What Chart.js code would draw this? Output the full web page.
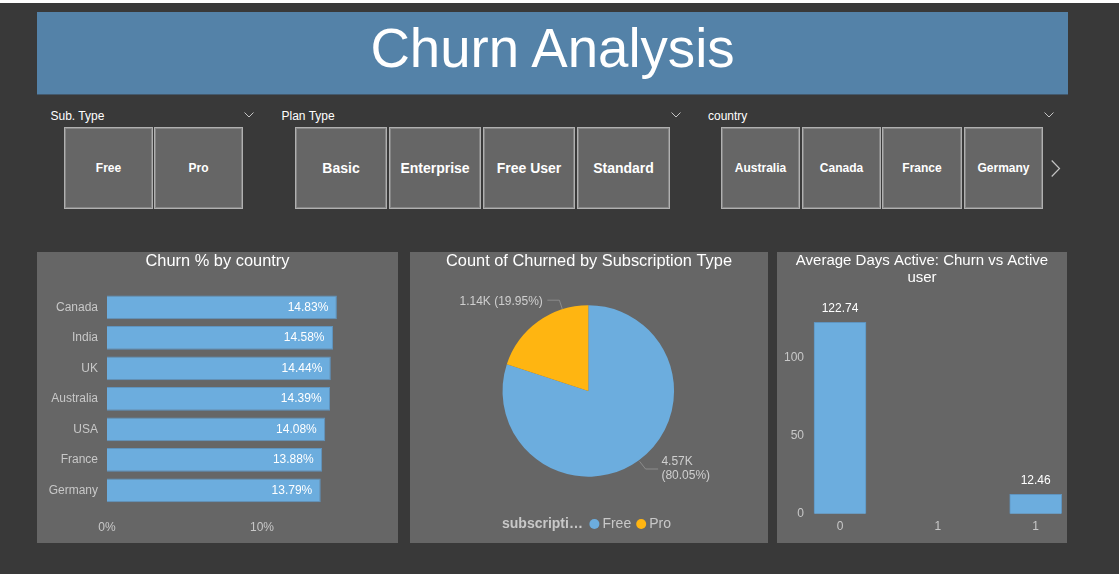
<!DOCTYPE html>
<html>
<head>
<meta charset="utf-8">
<title>Churn Analysis</title>
<script src="https://cdn.jsdelivr.net/npm/chart.js@4"></script>
<style>
html,body{margin:0;padding:0;background:#393939;width:1119px;height:574px;overflow:hidden;font-family:"Liberation Sans",Arial,sans-serif}
#strip{position:absolute;left:0;top:0;width:1119px;height:3px;background:#fff}
#header{position:absolute;left:37px;top:12px;width:1031px;height:83px;background:#5482a8;border-bottom:1px solid #43596d;box-sizing:border-box;color:#fff;font-size:54.6px;line-height:74px;text-align:center}
.lbl{position:absolute;top:109px;color:#fff;font-size:12px;line-height:14px}
.btn{position:absolute;top:127px;height:82px;box-sizing:border-box;border:1px solid #b0b0b0;box-shadow:inset 0 0 0 1px #868686;background:#666;color:#fff;font-weight:bold;font-size:12px;display:flex;align-items:center;justify-content:center}
.btn.big{font-size:14px}
svg.ch{position:absolute;overflow:visible}
.panel{position:absolute;top:252px;height:291px;background:#666;overflow:hidden}
.panel canvas{position:absolute;left:0;top:0}
</style>
</head>
<body>
<div id="strip"></div>
<div id="header">Churn Analysis</div>
<div id="slicers"></div>
<div class="panel" style="left:37px;width:361px"><canvas id="c1" width="361" height="291"></canvas></div>
<div class="panel" style="left:410px;width:358px"><canvas id="c2" width="358" height="291"></canvas></div>
<div class="panel" style="left:777px;width:290px"><canvas id="c3" width="290" height="291"></canvas></div>
<script>
const countries = ['Canada','India','UK','Australia','USA','France','Germany'];
const churnPct = [14.83,14.58,14.44,14.39,14.08,13.88,13.79];
const subTypes = ['Free','Pro'];
const churnCounts = [4570,1139];
const pieLabels = [['4.57K','(80.05%)'],['1.14K (19.95%)']];
const legendTitle = 'subscripti…';
const activeCats = ['0','1','1'];
const activeDays = [122.74,null,12.46];
const pctTicks = [0,10];
const dayTicks = [0,50,100];

const subTypeButtons = ['Free','Pro'];
const planButtons = ['Basic','Enterprise','Free User','Standard'];
const countryButtons = ['Australia','Canada','France','Germany'];

const BLUE='#6cadde', EDGE='#5f94bf', ORANGE='#ffb511', TICK='#c8c8c8';
const FONT='"Liberation Sans", Arial, sans-serif';
Chart.defaults.font.family=FONT;
Chart.defaults.animation=false;
Chart.defaults.devicePixelRatio=1;

/* slicers */
const host=document.getElementById('slicers');
function addLabel(t,x){const d=document.createElement('div');d.className='lbl';d.style.left=x+'px';d.textContent=t;host.appendChild(d);}
function addBtns(names,edges,big){names.forEach((n,i)=>{const d=document.createElement('div');d.className='btn'+(big?' big':'');d.style.left=edges[i][0]+'px';d.style.width=(edges[i][1]-edges[i][0])+'px';d.textContent=n;host.appendChild(d);});}
function chevron(x){host.insertAdjacentHTML('beforeend',`<svg class="ch" style="left:${x-5}px;top:112px" width="10" height="6"><path d="M0.5 0.5L5 5L9.5 0.5" fill="none" stroke="#c4c4c4" stroke-width="1"/></svg>`);}
addLabel('Sub. Type',50.5);addLabel('Plan Type',281.5);addLabel('country',708);
addBtns(subTypeButtons,[[64,153],[154,243]],false);
addBtns(planButtons,[[295,387],[389,481],[483,575],[577,670]],true);
addBtns(countryButtons,[[721,800],[802,881],[882,962],[964,1043]],false);
[249,676,1049].forEach(chevron);
host.insertAdjacentHTML('beforeend','<svg class="ch" style="left:1051px;top:160px" width="10" height="17"><path d="M0.7 0.5L8.5 8.5L0.7 16.5" fill="none" stroke="#c4c4c4" stroke-width="1.2"/></svg>');

/* keep each title centred on its whole panel, whatever the plot's side padding */
const centreTitle={id:'centreTitle',beforeDraw(chart){const t=chart.titleBlock;t.left=0;t.right=chart.width;}};

const barLabelPlugin={id:'barLabels',afterDatasetsDraw(chart,a,opts){
  const ctx=chart.ctx,meta=chart.getDatasetMeta(0),ds=chart.data.datasets[0].data;
  ctx.save();ctx.fillStyle='#fff';ctx.font='12px '+FONT;ctx.textBaseline='middle';
  meta.data.forEach((el,i)=>{
    if(ds[i]==null)return;
    if(opts.mode==='inside'){ctx.textAlign='right';ctx.fillText(ds[i].toFixed(2)+'%',el.x-8.5,el.y);}
    else{ctx.textAlign='center';ctx.fillText(ds[i].toFixed(2),el.x,el.y-13.5);}
  });
  ctx.restore();
}};

/* chart 1 */
new Chart(document.getElementById('c1'),{
  type:'bar',
  plugins:[barLabelPlugin,centreTitle],
  data:{labels:countries,datasets:[{data:churnPct,backgroundColor:BLUE,borderColor:EDGE,borderWidth:1,barPercentage:0.78,categoryPercentage:1}]},
  options:{indexAxis:'y',responsive:false,
    layout:{padding:{top:0,left:0,right:43,bottom:7.4}},
    plugins:{legend:{display:false},tooltip:{enabled:false},
      title:{display:true,text:'Churn % by country',color:'#fff',font:{size:16.4,weight:'normal'},padding:{top:0,bottom:20.5}},
      barLabels:{mode:'inside'}},
    scales:{
      x:{min:0,max:16,border:{display:false},grid:{display:false,drawTicks:false},afterFit(s){s.height=30;},
        afterBuildTicks(s){s.ticks=pctTicks.map(value=>({value}));},
        ticks:{padding:14.5,color:TICK,font:{size:12},callback:v=>v+'%'}},
      y:{border:{display:false},grid:{display:false,drawTicks:false},afterFit(s){s.width=70;s.paddingTop=0;s.paddingBottom=0;},
        ticks:{padding:9,color:TICK,font:{size:12},autoSkip:false}}
    }}
});

/* chart 2 */
const pieExtras={id:'pieExtras',afterDraw(chart){
  const ctx=chart.ctx,arc=chart.getDatasetMeta(0).data[0];
  const cx=arc.x,cy=arc.y,r=arc.outerRadius;
  const at=deg=>[cx+r*Math.sin(deg*Math.PI/180),cy-r*Math.cos(deg*Math.PI/180)];
  ctx.save();
  ctx.strokeStyle='#8c8c8c';ctx.lineWidth=1;
  const [ax,ay]=at(144.1);
  ctx.beginPath();ctx.moveTo(ax+1,ay+1);ctx.lineTo(ax+7,ay+8.6);ctx.lineTo(ax+19.5,ay+8.6);ctx.stroke();
  const [bx,by]=at(342.4);
  ctx.beginPath();ctx.moveTo(bx,by);ctx.lineTo(bx-3,by-9);ctx.lineTo(bx-15,by-9);ctx.stroke();
  ctx.fillStyle='#cfcfcf';ctx.font='12px '+FONT;ctx.textBaseline='middle';
  ctx.textAlign='left';
  pieLabels[0].forEach((t,i)=>ctx.fillText(t,ax+22.8,ay+1.5+14*i));
  ctx.textAlign='right';
  ctx.fillText(pieLabels[1][0],bx-19.5,by-7.5);
  /* legend */
  const ly=chart.height-19;
  let x=92;
  ctx.textAlign='left';ctx.fillStyle=TICK;
  ctx.font='bold 14px '+FONT;ctx.fillText(legendTitle,x,ly);
  x+=ctx.measureText(legendTitle).width+6.5;
  ctx.font='14px '+FONT;
  chart.data.labels.forEach((t,i)=>{
    ctx.fillStyle=chart.data.datasets[0].backgroundColor[i];
    ctx.beginPath();ctx.arc(x+5,ly,5,0,Math.PI*2);ctx.fill();
    ctx.fillStyle=TICK;ctx.fillText(t,x+13,ly);
    x+=13+ctx.measureText(t).width+5;
  });
  ctx.restore();
}};
new Chart(document.getElementById('c2'),{
  type:'pie',
  plugins:[pieExtras,centreTitle],
  data:{labels:subTypes,datasets:[{data:churnCounts,backgroundColor:[BLUE,ORANGE],borderWidth:0}]},
  options:{responsive:false,
    layout:{padding:{top:0,left:0,right:1.4,bottom:66.3}},
    plugins:{legend:{display:false},tooltip:{enabled:false},
      title:{display:true,text:'Count of Churned by Subscription Type',color:'#fff',font:{size:16.4,weight:'normal'},padding:{top:0,bottom:33.5}}}}
});

/* chart 3 */
new Chart(document.getElementById('c3'),{
  type:'bar',
  plugins:[barLabelPlugin,centreTitle],
  data:{labels:activeCats,datasets:[{data:activeDays,backgroundColor:BLUE,borderColor:EDGE,borderWidth:1,barThickness:52,clip:false}]},
  options:{responsive:false,
    layout:{padding:{top:0,left:0,right:31.3,bottom:0}},
    plugins:{legend:{display:false},tooltip:{enabled:false},
      title:{display:true,text:['Average Days Active: Churn vs Active','user'],color:'#fff',font:{size:15,weight:'normal',lineHeight:1.133},padding:{top:0,bottom:32.8}},
      barLabels:{mode:'above'}},
    scales:{
      x:{type:'category',offset:false,border:{display:false},grid:{display:false,drawTicks:false},afterFit(s){s.height=29.3;},
        ticks:{padding:6,color:TICK,font:{size:12},autoSkip:false,maxRotation:0,minRotation:0}},
      y:{min:0,max:125,border:{display:false},grid:{display:false,drawTicks:false},afterFit(s){s.width=63;s.paddingTop=0;s.paddingBottom=0;},
        afterBuildTicks(s){s.ticks=dayTicks.map(value=>({value}));},
        ticks:{padding:36,color:TICK,font:{size:12}}}
    }}
});
</script>
</body>
</html>
